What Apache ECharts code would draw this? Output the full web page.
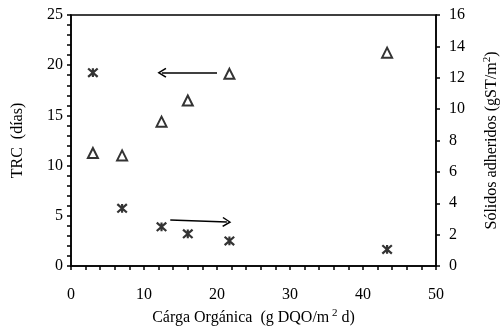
<!DOCTYPE html>
<html>
<head>
<meta charset="utf-8">
<script src="https://cdn.jsdelivr.net/npm/echarts@6/dist/echarts.min.js"></script>
<style>
  html, body { margin: 0; padding: 0; background: #fff; }
  #chart { width: 500px; height: 328px; }
</style>
</head>
<body>
<div id="chart"></div>
<script>
// carga organica (g DQO/m2 d)
const cargaOrg = [3.0, 7.0, 12.4, 16.0, 21.7, 43.3];
// TRC (dias) - asteriscos, eje izquierdo
const trcDias = [19.25, 5.75, 3.9, 3.2, 2.5, 1.65];
// solidos adheridos (gST/m2) - triangulos, eje derecho
const solidos = [7.2, 7.05, 9.2, 10.55, 12.25, 13.6];
// flechas [inicio, fin] en coordenadas del eje izquierdo
const flechaArriba = [[20.0, 19.25], [12.45, 19.25]];
const flechaAbajo = [[13.6, 4.58], [21.35, 4.38]];

const serif = "'Liberation Serif', 'Times New Roman', serif";
const chart = echarts.init(document.getElementById('chart'));

// asterisco: barra vertical + dos diagonales (mismo sentido de giro)
const asterisk = 'path://M-1.6,-7L1.6,-7L1.6,7L-1.6,7Z' +
  'M8.2,-5.4L-6.0,8.0L-8.2,5.4L6.0,-8.0Z' +
  'M6.0,8.0L-8.2,-5.4L-6.0,-8.0L8.2,5.4Z';
const chevron = 'path://M0,0L6,9L4.6,10L0,3L-4.6,10L-6,9Z';

const asterData = cargaOrg.map((x, i) => [x, trcDias[i]]);
const triData = cargaOrg.map((x, i) => [x, solidos[i]]);

const rich = {
  a: { fontFamily: serif, fontSize: 16, color: '#000' },
  s: { fontFamily: serif, fontSize: 11, color: '#000', verticalAlign: 'top', padding: [0, 0, 8, 0] }
};

let option = {
  animation: false,
  backgroundColor: '#fff',
  grid: {
    left: 71, right: 64, top: 15, bottom: 62,
    outerBoundsMode: 'none',
    containLabel: false,
    show: true, borderColor: '#000', borderWidth: 1.5
  },
  xAxis: {
    type: 'value',
    min: 0, max: 50, interval: 10,
    name: '{a|Cárga Orgánica  (g DQO/m}{s| 2}{a| d)}',
    nameLocation: 'middle',
    nameGap: 38,
    nameTextStyle: { rich: rich },
    axisLine: { lineStyle: { color: '#000', width: 1.5 } },
    axisTick: { inside: false, length: 4, lineStyle: { color: '#000', width: 1.5 } },
    minorTick: { show: true, splitNumber: 5, length: 4, lineStyle: { color: '#000', width: 1.5 } },
    splitLine: { show: false },
    axisLabel: { color: '#000', fontFamily: serif, fontSize: 16, margin: 21 }
  },
  yAxis: [
    {
      type: 'value',
      min: 0, max: 25, interval: 5,
      name: 'TRC  (días)',
      nameLocation: 'middle',
      nameGap: 45,
      nameRotate: 90,
      nameTextStyle: { color: '#000', fontFamily: serif, fontSize: 16 },
      axisLine: { show: true, lineStyle: { color: '#000', width: 1.5 } },
      axisTick: { show: true, inside: false, length: 4, lineStyle: { color: '#000', width: 1.5 } },
      minorTick: { show: true, splitNumber: 5, length: 4, lineStyle: { color: '#000', width: 1.5 } },
      splitLine: { show: false },
      axisLabel: { color: '#000', fontFamily: serif, fontSize: 16, margin: 8 }
    },
    {
      type: 'value',
      position: 'right',
      min: 0, max: 16, interval: 2,
      name: '{a|Sólidos adheridos (gST/m}{s|2}{a|)}',
      nameLocation: 'middle',
      nameGap: 46,
      nameRotate: 90,
      nameTextStyle: { rich: rich },
      axisLine: { show: true, lineStyle: { color: '#000', width: 1.5 } },
      axisTick: { show: true, inside: false, length: 4, lineStyle: { color: '#000', width: 1.5 } },
      splitLine: { show: false },
      axisLabel: { color: '#000', fontFamily: serif, fontSize: 16, margin: 13 }
    }
  ],
  series: [
    {
      name: 'TRC',
      type: 'scatter',
      yAxisIndex: 0,
      symbol: asterisk,
      symbolSize: [11, 10],
      itemStyle: { color: '#000' },
      data: asterData,
      markLine: {
        silent: true,
        symbol: ['none', chevron],
        symbolSize: [10, 9],
        label: { show: false },
        lineStyle: { color: '#000', width: 1.5, type: 'solid' },
        data: [
          [{ coord: flechaArriba[0] }, { coord: flechaArriba[1] }],
          [{ coord: flechaAbajo[0] }, { coord: flechaAbajo[1] }]
        ]
      }
    },
    {
      name: 'Sólidos',
      type: 'scatter',
      yAxisIndex: 1,
      symbol: 'triangle',
      symbolSize: [10, 10],
      itemStyle: { color: '#fff', borderColor: '#000', borderWidth: 2 },
      data: triData
    }
  ]
};
chart.setOption(option);
</script>
</body>
</html>
